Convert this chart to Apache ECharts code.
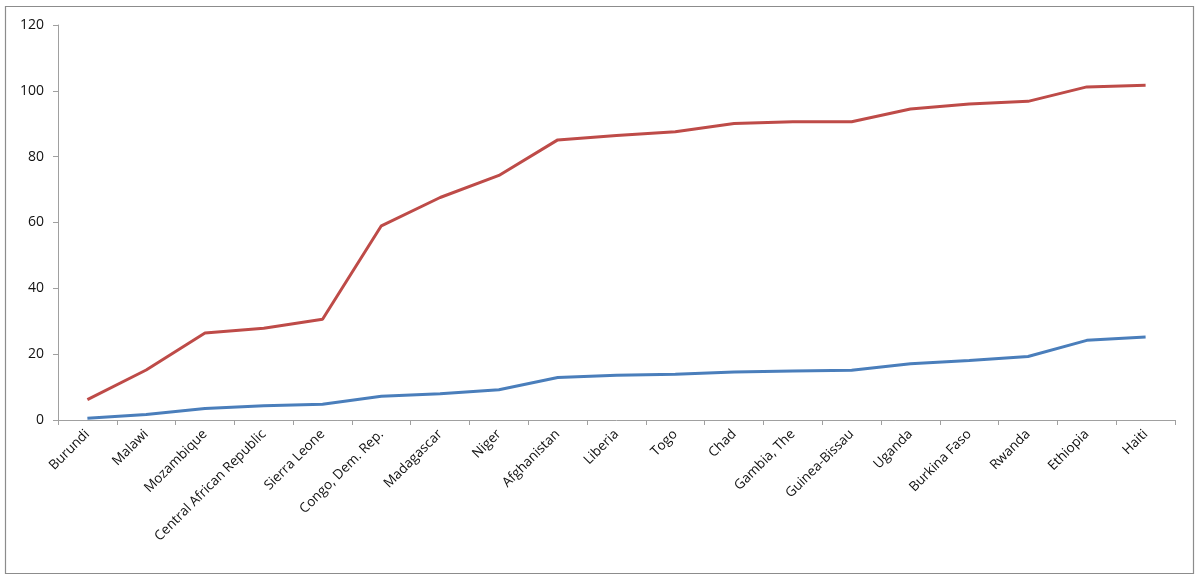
<!DOCTYPE html>
<html>
<head>
<meta charset="utf-8">
<script src="https://cdn.jsdelivr.net/npm/echarts@6/dist/echarts.min.js"></script>
<style>
  html, body { margin: 0; padding: 0; background: #ffffff; }
  #chart { width: 1204px; height: 584px; }
</style>
</head>
<body>
<div id="chart"></div>
<script>
const categories = ["Burundi", "Malawi", "Mozambique", "Central African Republic", "Sierra Leone",
  "Congo, Dem. Rep.", "Madagascar", "Niger", "Afghanistan", "Liberia", "Togo", "Chad",
  "Gambia, The", "Guinea-Bissau", "Uganda", "Burkina Faso", "Rwanda", "Ethiopia", "Haiti"];
const blueValues = [0.5, 1.7, 3.5, 4.3, 4.8, 7.2, 8.0, 9.2, 12.9, 13.6, 13.9, 14.6, 14.9, 15.1, 17.1, 18.1, 19.3, 24.2, 25.2];
const redValues = [6.2, 15.2, 26.4, 27.9, 30.6, 59.0, 67.6, 74.3, 85.1, 86.4, 87.6, 90.1, 90.6, 90.6, 94.5, 96.0, 96.8, 101.2, 101.7];
const yTicks = { min: 0, max: 120, interval: 20 };

const chart = echarts.init(document.getElementById('chart'), null, { renderer: 'canvas' });
chart.setOption({
  backgroundColor: '#ffffff',
  animation: false,
  graphic: [{
    type: 'rect',
    shape: { x: 5.5, y: 6.5, width: 1188, height: 567 },
    style: { fill: 'none', stroke: '#8c8c8c', lineWidth: 1.2 },
    silent: true
  }],
  grid: { left: 58, right: 29, top: 25, bottom: 164, containLabel: false },
  xAxis: {
    type: 'category',
    data: categories,
    boundaryGap: true,
    axisLine: { lineStyle: { color: '#a0a0a0', width: 1 } },
    axisTick: { show: true, alignWithLabel: false, length: 5, lineStyle: { color: '#a0a0a0' } },
    axisLabel: {
      interval: 0,
      rotate: 45,
      margin: 12,
      color: '#111111',
      fontFamily: 'Open Sans, Liberation Sans, sans-serif',
      fontSize: 13.5
    },
    splitLine: { show: false }
  },
  yAxis: {
    type: 'value',
    min: yTicks.min,
    max: yTicks.max,
    interval: yTicks.interval,
    axisLine: { show: true, lineStyle: { color: '#a0a0a0', width: 1 } },
    axisTick: { show: true, length: 5, lineStyle: { color: '#a0a0a0' } },
    axisLabel: {
      margin: 14,
      color: '#111111',
      fontFamily: 'Open Sans, Liberation Sans, sans-serif',
      fontSize: 14
    },
    splitLine: { show: false }
  },
  series: [
    {
      name: 'Series 1',
      type: 'line',
      data: blueValues,
      symbol: 'none',
      lineStyle: { color: '#4a7ebb', width: 3 },
      itemStyle: { color: '#4a7ebb' }
    },
    {
      name: 'Series 2',
      type: 'line',
      data: redValues,
      symbol: 'none',
      lineStyle: { color: '#be4b48', width: 3 },
      itemStyle: { color: '#be4b48' }
    }
  ]
});
</script>
</body>
</html>
